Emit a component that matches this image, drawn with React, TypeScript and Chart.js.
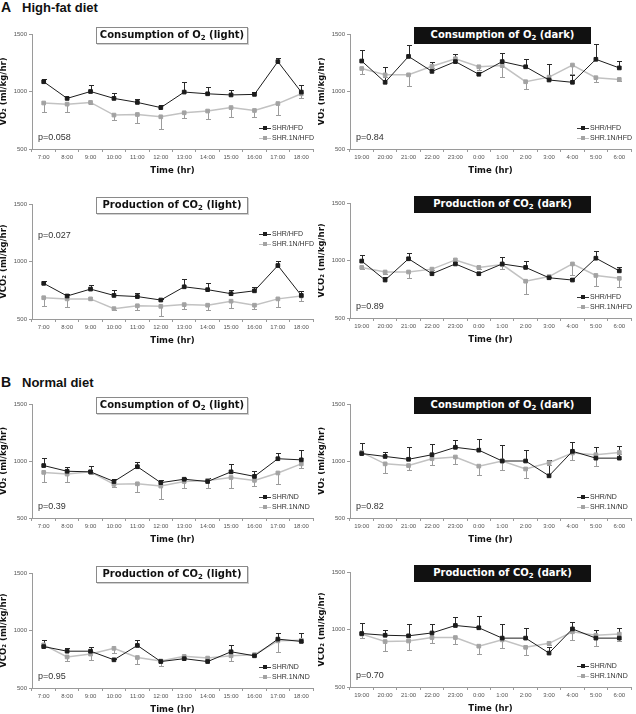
import React, { useEffect, useRef } from "react";
import { Chart, registerables } from "chart.js";

Chart.register(...registerables);

// ---------- categories ----------
const LIGHT_HOURS = ["7:00", "8:00", "9:00", "10:00", "11:00", "12:00", "13:00", "14:00", "15:00", "16:00", "17:00", "18:00"];
const DARK_HOURS = ["19:00", "20:00", "21:00", "22:00", "23:00", "0:00", "1:00", "2:00", "3:00", "4:00", "5:00", "6:00"];
const Y_TICKS = [500, 1000, 1500];

// ---------- A: high-fat diet ----------
const hfdO2LightSHR = [1085, 940, 1000, 940, 905, 860, 995, 980, 970, 975, 1260, 995];
const hfdO2LightSHRErr = [25, 10, 55, 45, 30, 20, 85, 60, 45, 25, 35, 65];
const hfdO2Light1N = [900, 890, 905, 795, 800, 780, 815, 830, 860, 835, 895, 980];
const hfdO2Light1NErr = [80, 70, 10, 40, 75, 105, 45, 65, 80, 60, 95, 40];

const hfdO2DarkSHR = [1265, 1080, 1305, 1175, 1260, 1150, 1260, 1215, 1100, 1080, 1280, 1205];
const hfdO2DarkSHRErr = [95, 130, 100, 85, 65, 20, 75, 65, 140, 60, 135, 60];
const hfdO2Dark1N = [1200, 1145, 1145, 1220, 1285, 1215, 1225, 1085, 1125, 1230, 1120, 1105];
const hfdO2Dark1NErr = [45, 20, 95, 15, 15, 30, 95, 65, 15, 80, 40, 15];

const hfdCO2LightSHR = [810, 700, 760, 705, 695, 665, 780, 755, 720, 745, 965, 705];
const hfdCO2LightSHRErr = [20, 20, 35, 45, 30, 10, 70, 55, 30, 30, 40, 40];
const hfdCO2Light1N = [685, 675, 675, 590, 615, 610, 625, 620, 655, 620, 675, 700];
const hfdCO2Light1NErr = [70, 70, 10, 15, 35, 80, 35, 40, 55, 30, 70, 40];

const hfdCO2DarkSHR = [995, 830, 1015, 885, 970, 885, 970, 940, 850, 830, 1020, 910];
const hfdCO2DarkSHRErr = [50, 30, 50, 15, 15, 15, 60, 60, 10, 15, 65, 35];
const hfdCO2Dark1N = [940, 900, 900, 925, 1005, 940, 965, 820, 860, 970, 870, 845];
const hfdCO2Dark1NErr = [15, 15, 55, 10, 15, 15, 40, 115, 15, 100, 90, 75];

// ---------- B: normal diet ----------
const ndO2LightSHR = [960, 910, 905, 820, 950, 810, 840, 820, 905, 865, 1020, 1010];
const ndO2LightSHRErr = [70, 40, 55, 20, 40, 25, 10, 35, 70, 45, 50, 85];
const ndO2Light1N = [900, 885, 905, 795, 800, 780, 820, 830, 855, 830, 895, 975];
const ndO2Light1NErr = [85, 70, 15, 25, 70, 110, 55, 65, 90, 50, 100, 35];

const ndO2DarkSHR = [1065, 1040, 1015, 1055, 1120, 1095, 1000, 1000, 870, 1085, 1025, 1025];
const ndO2DarkSHRErr = [95, 40, 110, 95, 65, 95, 140, 100, 140, 80, 95, 105];
const ndO2Dark1N = [1075, 975, 960, 1020, 1035, 955, 1000, 930, 985, 1070, 1055, 1075];
const ndO2Dark1NErr = [15, 80, 40, 55, 60, 80, 75, 80, 20, 60, 100, 15];

const ndCO2LightSHR = [860, 820, 820, 745, 870, 730, 755, 730, 815, 780, 925, 905];
const ndCO2LightSHRErr = [55, 30, 40, 10, 50, 15, 10, 10, 60, 25, 50, 75];
const ndCO2Light1N = [875, 770, 795, 845, 765, 735, 775, 760, 780, 790, 910, 915];
const ndCO2Light1NErr = [15, 35, 50, 40, 55, 45, 15, 15, 45, 15, 95, 15];

const ndCO2DarkSHR = [965, 950, 945, 970, 1035, 1015, 925, 925, 795, 1005, 925, 925];
const ndCO2DarkSHRErr = [90, 45, 105, 80, 70, 105, 120, 85, 50, 60, 75, 85];
const ndCO2Dark1N = [960, 895, 900, 930, 930, 855, 910, 845, 880, 980, 950, 960];
const ndCO2Dark1NErr = [30, 85, 80, 50, 60, 70, 75, 70, 15, 70, 90, 60];

// ---------- styling ----------
const BLACK = "#1c1c1c";
const GRAY_LINE = "#c2c2c2";
const GRAY_PT = "#a3a3a3";
const AXIS = "#9a9a9a";
const PLOT_W = 285;
const PAD_L = 32;
const PAD_T = 20;
const PAD_B = 26;

type PanelSpec = {
  left: number;
  top: number;
  bottom: number;
  labels: string[];
  shr: number[];
  shrErr: number[];
  con: number[];
  conErr: number[];
  titlePre: string;
  period: string;
  dark: boolean;
  p: string;
  yTitle: string;
  shrName: string;
  conName: string;
  legendTop?: boolean;
};

const PANELS: PanelSpec[] = [
  { left: 32, top: 34, bottom: 149, labels: LIGHT_HOURS, shr: hfdO2LightSHR, shrErr: hfdO2LightSHRErr, con: hfdO2Light1N, conErr: hfdO2Light1NErr, titlePre: "Consumption of O", period: "light", dark: false, p: "p=0.058", yTitle: "VO₂ (ml/kg/hr)", shrName: "SHR/HFD", conName: "SHR.1N/HFD" },
  { left: 350, top: 34, bottom: 149, labels: DARK_HOURS, shr: hfdO2DarkSHR, shrErr: hfdO2DarkSHRErr, con: hfdO2Dark1N, conErr: hfdO2Dark1NErr, titlePre: "Consumption of O", period: "dark", dark: true, p: "p=0.84", yTitle: "VO₂ (ml/kg/hr)", shrName: "SHR/HFD", conName: "SHR.1N/HFD" },
  { left: 32, top: 204, bottom: 319, labels: LIGHT_HOURS, shr: hfdCO2LightSHR, shrErr: hfdCO2LightSHRErr, con: hfdCO2Light1N, conErr: hfdCO2Light1NErr, titlePre: "Production of CO", period: "light", dark: false, p: "p=0.027", yTitle: "VCO₂ (ml/kg/hr)", shrName: "SHR/HFD", conName: "SHR.1N/HFD", legendTop: true },
  { left: 350, top: 203, bottom: 318, labels: DARK_HOURS, shr: hfdCO2DarkSHR, shrErr: hfdCO2DarkSHRErr, con: hfdCO2Dark1N, conErr: hfdCO2Dark1NErr, titlePre: "Production of CO", period: "dark", dark: true, p: "p=0.89", yTitle: "VCO₂ (ml/kg/hr)", shrName: "SHR/HFD", conName: "SHR.1N/HFD" },
  { left: 32, top: 404, bottom: 518, labels: LIGHT_HOURS, shr: ndO2LightSHR, shrErr: ndO2LightSHRErr, con: ndO2Light1N, conErr: ndO2Light1NErr, titlePre: "Consumption of O", period: "light", dark: false, p: "p=0.39", yTitle: "VO₂ (ml/kg/hr)", shrName: "SHR/ND", conName: "SHR.1N/ND" },
  { left: 350, top: 404, bottom: 518, labels: DARK_HOURS, shr: ndO2DarkSHR, shrErr: ndO2DarkSHRErr, con: ndO2Dark1N, conErr: ndO2Dark1NErr, titlePre: "Consumption of O", period: "dark", dark: true, p: "p=0.82", yTitle: "VO₂ (ml/kg/hr)", shrName: "SHR/ND", conName: "SHR.1N/ND" },
  { left: 32, top: 573, bottom: 688, labels: LIGHT_HOURS, shr: ndCO2LightSHR, shrErr: ndCO2LightSHRErr, con: ndCO2Light1N, conErr: ndCO2Light1NErr, titlePre: "Production of CO", period: "light", dark: false, p: "p=0.95", yTitle: "VCO₂ (ml/kg/hr)", shrName: "SHR/ND", conName: "SHR.1N/ND" },
  { left: 350, top: 572, bottom: 687, labels: DARK_HOURS, shr: ndCO2DarkSHR, shrErr: ndCO2DarkSHRErr, con: ndCO2Dark1N, conErr: ndCO2Dark1NErr, titlePre: "Production of CO", period: "dark", dark: true, p: "p=0.70", yTitle: "VCO₂ (ml/kg/hr)", shrName: "SHR/ND", conName: "SHR.1N/ND" },
];

const errorBarPlugin = {
  id: "errorBars",
  beforeDatasetsDraw(chart: any) {
    const ctx = chart.ctx;
    const ys = chart.scales.y;
    chart.data.datasets.forEach((ds: any, i: number) => {
      const meta = chart.getDatasetMeta(i);
      ctx.save();
      ctx.strokeStyle = ds.errColor;
      ctx.lineWidth = 1;
      meta.data.forEach((pt: any, j: number) => {
        const v = ds.data[j];
        const e = ds.errors[j];
        const y0 = ys.getPixelForValue(v);
        const y1 = Math.round(ys.getPixelForValue(v + ds.errDir * e)) + 0.5;
        const x = Math.round(pt.x) + 0.5;
        ctx.beginPath();
        ctx.moveTo(x, y0);
        ctx.lineTo(x, y1);
        ctx.moveTo(x - 2.5, y1);
        ctx.lineTo(x + 2.5, y1);
        ctx.stroke();
      });
      ctx.restore();
    });
  },
};

const TICK_FONT = { family: "'Liberation Sans', Arial, sans-serif", size: 6 };
const AX_TITLE_FONT = { family: "'DejaVu Sans', Verdana, sans-serif", size: 8.5, weight: "bold" as const };

function PanelChart({ spec }: { spec: PanelSpec }) {
  const ref = useRef<HTMLCanvasElement | null>(null);
  const h = spec.bottom - spec.top;
  const cw = PAD_L + PLOT_W + 1;
  const ch = PAD_T + h + PAD_B;

  useEffect(() => {
    if (!ref.current) return;
    const chart = new Chart(ref.current, {
      type: "line",
      data: {
        labels: spec.labels,
        datasets: [
          {
            label: spec.shrName,
            data: spec.shr,
            borderColor: BLACK,
            backgroundColor: BLACK,
            borderWidth: 1,
            pointStyle: "rect",
            pointRadius: 2.6,
            pointBorderWidth: 1,
            pointBackgroundColor: BLACK,
            pointBorderColor: BLACK,
            tension: 0,
            errors: spec.shrErr,
            errDir: 1,
            errColor: "#2a2a2a",
          } as any,
          {
            label: spec.conName,
            data: spec.con,
            borderColor: GRAY_LINE,
            backgroundColor: GRAY_PT,
            borderWidth: 1.5,
            pointStyle: "rect",
            pointRadius: 2.6,
            pointBorderWidth: 1,
            pointBackgroundColor: GRAY_PT,
            pointBorderColor: GRAY_PT,
            tension: 0,
            errors: spec.conErr,
            errDir: -1,
            errColor: "#9c9c9c",
          } as any,
        ],
      },
      options: {
        animation: false,
        responsive: false,
        devicePixelRatio: 1,
        events: [],
        layout: { padding: { top: PAD_T, right: 1, left: 0, bottom: 0 } },
        plugins: { legend: { display: false }, tooltip: { enabled: false }, title: { display: false } },
        scales: {
          x: {
            type: "category",
            offset: true,
            grid: { offset: true, drawOnChartArea: false, drawTicks: true, tickLength: 3, color: AXIS },
            border: { color: AXIS, width: 1 },
            ticks: { autoSkip: false, maxRotation: 0, minRotation: 0, padding: 2, color: "#555", font: TICK_FONT },
            title: { display: true, text: "Time (hr)", color: "#111", font: AX_TITLE_FONT, padding: { top: 0, bottom: -1 } },
            afterFit: (s: any) => {
              s.height = PAD_B;
            },
          },
          y: {
            min: 500,
            max: 1500,
            afterBuildTicks: (s: any) => {
              s.ticks = Y_TICKS.map((v) => ({ value: v }));
            },
            grid: { drawOnChartArea: false, drawTicks: true, tickLength: 3, color: AXIS },
            border: { color: AXIS, width: 1 },
            ticks: { padding: 2, color: "#555", font: TICK_FONT, callback: (v: any) => String(v) },
            title: { display: true, text: spec.yTitle, color: "#111", font: AX_TITLE_FONT, padding: { top: -1, bottom: 0 } },
            afterFit: (s: any) => {
              s.width = PAD_L;
            },
          },
        },
      },
      plugins: [errorBarPlugin],
    } as any);
    return () => chart.destroy();
  }, [spec]);

  const right = spec.left + PLOT_W;
  const legendX = right - 58;
  const legendY1 = spec.legendTop ? spec.top + 30 : spec.bottom - 21;
  const pY = spec.legendTop ? spec.top + 32 : spec.bottom - 11;
  const boxW = spec.dark ? 177 : 152;

  const legendRow = (name: string, color: string, line: string, y: number) => (
    <div style={{ position: "absolute", left: legendX, top: y - 5, height: 10, display: "flex", alignItems: "center", whiteSpace: "nowrap" }}>
      <span style={{ position: "relative", display: "inline-block", width: 12, height: 10 }}>
        <span style={{ position: "absolute", left: 0, top: 4.5, width: 12, height: 1, background: line }} />
        <span style={{ position: "absolute", left: 4, top: 3, width: 4, height: 4, background: color }} />
      </span>
      <span style={{ marginLeft: 1, font: "7px 'Liberation Sans', Arial, sans-serif", color: "#333", lineHeight: "10px" }}>{name}</span>
    </div>
  );

  return (
    <>
      <canvas
        ref={ref}
        width={cw}
        height={ch}
        style={{ position: "absolute", left: spec.left - PAD_L, top: spec.top - PAD_T, width: cw, height: ch }}
      />
      <div
        style={{
          position: "absolute",
          left: spec.left + 64,
          top: spec.top - 7,
          width: boxW,
          height: 17,
          boxSizing: "border-box",
          background: spec.dark ? "#111" : "#fff",
          border: spec.dark ? "1px solid #111" : "1px solid #8a8a8a",
          boxShadow: spec.dark ? "none" : "1px 1px 0 #d0d0d0",
          color: spec.dark ? "#fff" : "#111",
          display: "flex",
          alignItems: "center",
          justifyContent: "center",
          font: "bold 10px 'DejaVu Sans', Verdana, sans-serif",
          whiteSpace: "nowrap",
          lineHeight: "15px",
        }}
      >
        <span>
          {spec.titlePre}
          <span style={{ fontSize: 7, position: "relative", top: 2 }}>2</span>
          {" (" + spec.period + ")"}
        </span>
      </div>
      {legendRow(spec.shrName, BLACK, "#333", legendY1)}
      {legendRow(spec.conName, GRAY_PT, GRAY_LINE, legendY1 + 10)}
      <div
        style={{
          position: "absolute",
          left: spec.left + 6,
          top: pY - 6,
          height: 12,
          lineHeight: "12px",
          font: "9px 'Liberation Sans', Arial, sans-serif",
          color: "#333",
          whiteSpace: "nowrap",
        }}
      >
        {spec.p}
      </div>
    </>
  );
}

function Header({ letter, text, baseline }: { letter: string; text: string; baseline: number }) {
  return (
    <>
      <div style={{ position: "absolute", left: 1, top: baseline - 12, font: "bold 14px 'Liberation Sans', Arial, sans-serif", lineHeight: "14px", color: "#111" }}>{letter}</div>
      <div style={{ position: "absolute", left: 22, top: baseline - 11, font: "bold 13px 'Liberation Sans', Arial, sans-serif", lineHeight: "13px", color: "#111", whiteSpace: "nowrap" }}>{text}</div>
    </>
  );
}

export default function App() {
  return (
    <div style={{ position: "absolute", left: 0, top: 0, width: 636, height: 714, overflow: "hidden", background: "#fff" }}>
      <Header letter="A" text="High-fat diet" baseline={12} />
      <Header letter="B" text="Normal diet" baseline={387} />
      {PANELS.map((p, i) => (
        <PanelChart key={i} spec={p} />
      ))}
    </div>
  );
}
